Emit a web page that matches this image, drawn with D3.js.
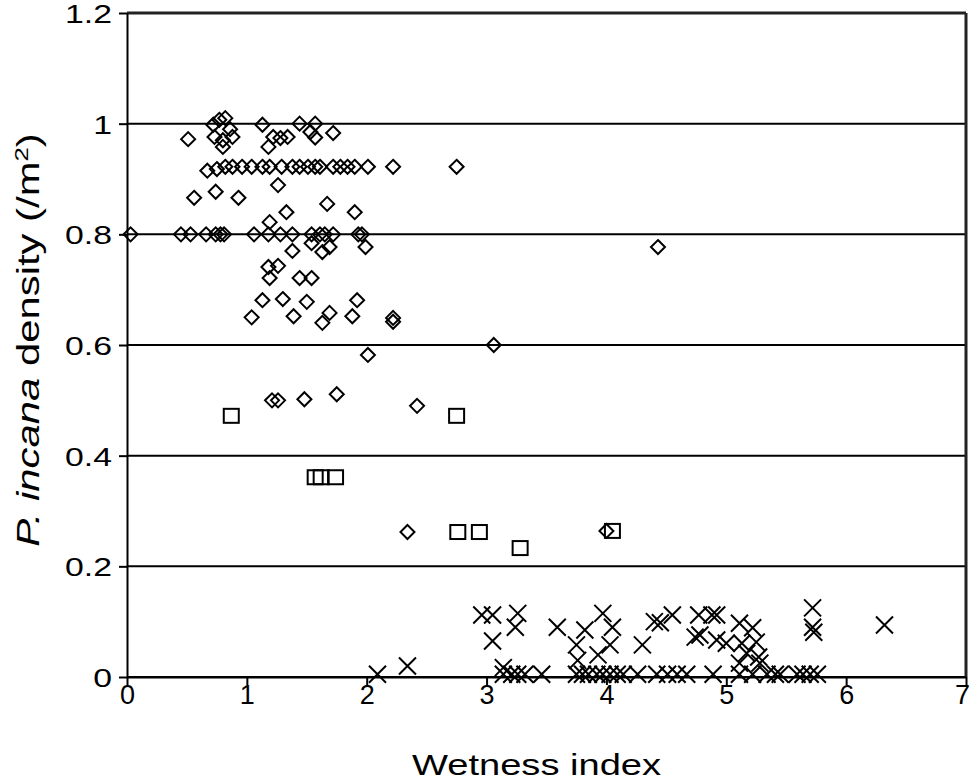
<!DOCTYPE html>
<meta charset="utf-8">
<style>
html,body {
  margin: 0px;
  padding: 0px;
  background-color: white;
  overflow: hidden;
}
text {
  font-family: "Liberation Sans", Arial, sans-serif;
  fill: black;
}
.axis path,
.axis line {
  stroke: black;
  stroke-width: 2px;
}
.grid line {
  stroke: black;
  stroke-width: 2px;
}
.mark {
  fill: none;
  stroke: black;
  stroke-width: 2px;
}
</style>
<body>
<svg></svg>
</body>
<script src="https://cdn.jsdelivr.net/npm/d3@7"></script>
<script>

// wetness index / density, three site groups
var diamonds = [
  [0.03,0.8],[0.45,0.8],[0.53,0.8],[0.66,0.8],[0.74,0.8],[0.78,0.8],[0.81,0.8],
  [1.06,0.8],[1.18,0.8],[1.28,0.8],[1.38,0.8],[1.54,0.8],[1.61,0.8],[1.65,0.8],
  [1.72,0.8],[1.93,0.8],[1.96,0.8],
  [0.67,0.915],[0.75,0.918],[0.82,0.922],[0.88,0.922],[0.96,0.922],[1.04,0.922],
  [1.13,0.922],[1.19,0.922],[1.29,0.922],[1.38,0.922],[1.44,0.922],[1.51,0.922],
  [1.57,0.922],[1.61,0.922],[1.72,0.922],[1.78,0.922],[1.84,0.922],[1.9,0.922],
  [2.01,0.922],[2.22,0.922],[2.75,0.922],
  [0.77,1.007],[0.82,1.01],[0.72,0.998],[0.86,0.99],[0.51,0.972],[0.73,0.976],
  [0.8,0.97],[0.88,0.976],[0.8,0.958],[1.13,0.998],[1.22,0.976],[1.18,0.958],
  [1.28,0.974],[1.34,0.976],[1.44,1.0],[1.57,1.0],[1.53,0.985],[1.57,0.975],
  [1.72,0.983],
  [1.26,0.889],[0.56,0.866],[0.74,0.877],[0.93,0.866],[1.33,0.84],[1.67,0.855],
  [1.9,0.84],[1.19,0.822],[1.38,0.77],[1.54,0.784],[1.63,0.768],[1.69,0.777],
  [1.99,0.777],[1.18,0.741],[1.26,0.743],[1.19,0.721],[1.44,0.721],[1.54,0.721],
  [1.13,0.681],[1.3,0.683],[1.5,0.678],[1.92,0.681],[1.04,0.65],[1.39,0.652],
  [1.63,0.64],[1.69,0.658],[1.88,0.652],[2.22,0.649],[2.22,0.642],[2.01,0.582],
  [3.06,0.6],[4.43,0.777],[1.21,0.5],[1.26,0.5],[1.48,0.502],[1.75,0.511],
  [2.42,0.49],[2.34,0.262],[4.0,0.264]
];

var squares = [
  [0.87,0.472],[2.75,0.472],[1.57,0.361],[1.62,0.361],[1.74,0.361],
  [2.76,0.262],[2.94,0.262],[3.28,0.233],[4.05,0.264]
];

var crosses = [
  [2.09,0.005],[2.34,0.02],[2.96,0.112],[3.05,0.112],[3.05,0.065],[3.26,0.115],
  [3.24,0.09],[3.59,0.09],[3.82,0.085],[3.75,0.058],[3.97,0.115],[4.05,0.09],
  [4.03,0.058],[4.3,0.058],[4.4,0.1],[4.45,0.098],[4.55,0.112],[4.77,0.112],
  [4.88,0.112],[4.92,0.112],[4.74,0.072],[4.78,0.076],[4.92,0.067],[5.0,0.061],
  [5.11,0.097],[5.22,0.089],[5.13,0.061],[5.17,0.043],[5.25,0.063],[5.27,0.036],
  [5.28,0.025],[5.11,0.025],[5.72,0.125],[5.72,0.09],[5.73,0.081],[6.32,0.094],
  [3.14,0.017],[3.76,0.03],[3.93,0.04],
  [3.14,0.005],[3.21,0.005],[3.26,0.005],[3.32,0.005],[3.46,0.005],[3.75,0.005],
  [3.8,0.005],[3.85,0.005],[3.92,0.005],[3.97,0.005],[4.03,0.005],[4.09,0.005],
  [4.14,0.005],[4.26,0.005],[4.42,0.005],[4.51,0.005],[4.59,0.005],[4.67,0.005],
  [4.89,0.005],[5.11,0.005],[5.22,0.005],[5.34,0.005],[5.41,0.005],[5.45,0.005],
  [5.59,0.005],[5.64,0.005],[5.7,0.005],[5.76,0.005]
];

var xTicks = [0,1,2,3,4,5,6,7];
var yTicks = [0,0.2,0.4,0.6,0.8,1,1.2];
var yTickLabels = ["0","0.2","0.4","0.6","0.8","1","1.2"];

var W = 973, H = 783;
var margin = {left:127, top:13, right:7, bottom:106};
var stretch = 1.3;   // the original type is set wide

var svg = d3.select("svg").attr("width",W).attr("height",H);

var x = d3.scaleLinear().domain([0,7]).range([margin.left, W - margin.right]);
var y = d3.scaleLinear().domain([0,1.2]).range([H - margin.bottom, margin.top]);

// grid
svg.append("g").attr("class","grid")
  .selectAll("line").data(yTicks).enter().append("line")
  .attr("x1", x(0)).attr("x2", x(7))
  .attr("y1", function(d){ return y(d); })
  .attr("y2", function(d){ return y(d); });

// frame top and right
svg.append("line")
  .attr("x1", x(7)).attr("x2", x(7)).attr("y1", y(1.2)).attr("y2", y(0))
  .style("stroke","#222").style("stroke-width","3px");
svg.append("line")
  .attr("x1", x(0)).attr("x2", x(7)).attr("y1", y(1.2)).attr("y2", y(1.2))
  .style("stroke","#222").style("stroke-width","3px");

var xAxis = svg.append("g").attr("class","axis")
  .attr("transform","translate(0," + y(0) + ")")
  .call(d3.axisBottom(x).tickValues(xTicks).tickSize(8).tickSizeOuter(0).tickFormat(d3.format("d")));
xAxis.selectAll("text")
  .attr("font-size","27px").attr("y", 8).attr("dy","0.71em")
  .attr("dx", function(d){ return d === 7 ? -4 : 0; });

var yAxis = svg.append("g").attr("class","axis")
  .attr("transform","translate(" + x(0) + ",0)")
  .call(d3.axisLeft(y).tickValues(yTicks).tickSize(8).tickSizeOuter(0)
    .tickFormat(function(d,i){ return yTickLabels[i]; }));
yAxis.selectAll("text")
  .attr("font-size","26px").attr("x", -15 / stretch).attr("dy","0.36em")
  .attr("transform","scale(" + stretch + ",1)");
svg.selectAll(".axis text").style("fill","black").attr("font-family",'"Liberation Sans", Arial, sans-serif');

// markers
svg.append("g").selectAll("path").data(diamonds).enter().append("path")
  .attr("class","mark")
  .attr("d", function(d){ return "M" + x(d[0]) + "," + (y(d[1]) - 7) + "l7,7l-7,7l-7,-7z"; });

svg.append("g").selectAll("rect").data(squares).enter().append("rect")
  .attr("class","mark")
  .attr("x", function(d){ return x(d[0]) - 7.5; })
  .attr("y", function(d){ return y(d[1]) - 7; })
  .attr("width", 15).attr("height", 14);

svg.append("g").selectAll("path").data(crosses).enter().append("path")
  .attr("class","mark")
  .attr("d", function(d){
    var cx = x(d[0]), cy = y(d[1]);
    return "M" + (cx-8.5) + "," + (cy-8.5) + "l17,17M" + (cx-8.5) + "," + (cy+8.5) + "l17,-17";
  });

// titles
svg.append("text")
  .attr("transform","translate(" + ((x(0) + x(7)) / 2 - 10) + ",775) scale(1.27,1)")
  .attr("text-anchor","middle")
  .attr("font-size","30px")
  .text("Wetness index");

var yt = svg.append("text")
  .attr("transform","translate(39,340) rotate(-90) scale(1.35,1)")
  .attr("text-anchor","middle")
  .attr("font-size","31px");
yt.append("tspan").attr("font-style","italic").text("P. incana");
yt.append("tspan").text(" density (/m");
yt.append("tspan").attr("font-size","19px").attr("dy","-11").text("2");
yt.append("tspan").attr("dy","11").text(")");

</script>
